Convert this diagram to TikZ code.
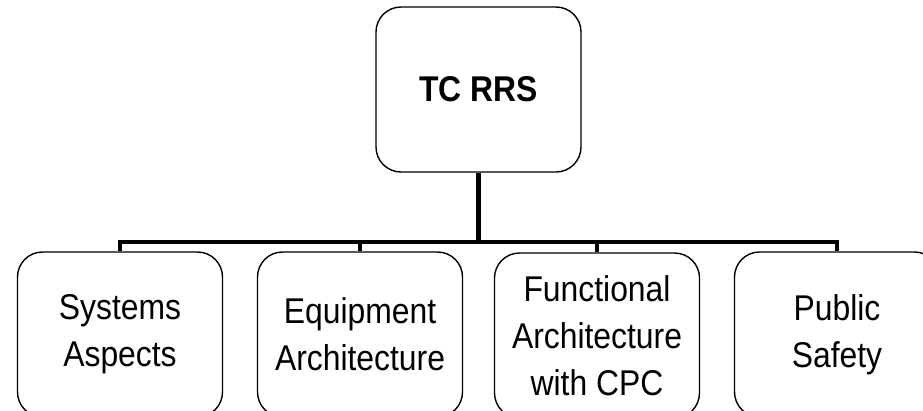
\documentclass[tikz,border=0pt]{standalone}
\usepackage{fontspec}
\setmainfont{Liberation Sans}
\newfontfamily\diagfont[FakeStretch=0.89]{Liberation Sans}
\begin{document}
\begin{tikzpicture}[x=1pt,y=-1pt,
  boxstyle/.style={draw=black, line width=1.4pt, rounded corners=25pt,
    minimum width=205pt, minimum height=165pt, inner sep=0pt, align=center,
    font={\diagfont\fontsize{35.8}{47}\selectfont}},
  topstyle/.style={boxstyle, font={\diagfont\bfseries\fontsize{35.8}{47}\selectfont}},
  conn/.style={draw=black, line width=4.5pt, line join=miter, line cap=butt}]
\useasboundingbox (0,0) rectangle (923,410);
\clip (0,0) rectangle (923,410);
\node[topstyle] (top) at (478.5,89.5) {TC RRS};
\node[boxstyle] (b1) at (120,334.5) {Systems\\Aspects};
\node[boxstyle] (b2) at (360,334.5) {Equipment\\Architecture};
\node[boxstyle] (b3) at (597,335.5) {Functional\\Architecture\\with CPC};
\node[boxstyle] (b4) at (837,334.5) {Public\\Safety};
\coordinate (j) at (478.5,242);
\draw[conn] (top.south) -- (j);
\draw[conn] (b1.north) -- (b1.north |- j) -- (b4.north |- j) -- (b4.north);
\draw[conn] (b2.north) -- (b2.north |- j);
\draw[conn] (b3.north) -- (b3.north |- j);
\end{tikzpicture}
\end{document}
